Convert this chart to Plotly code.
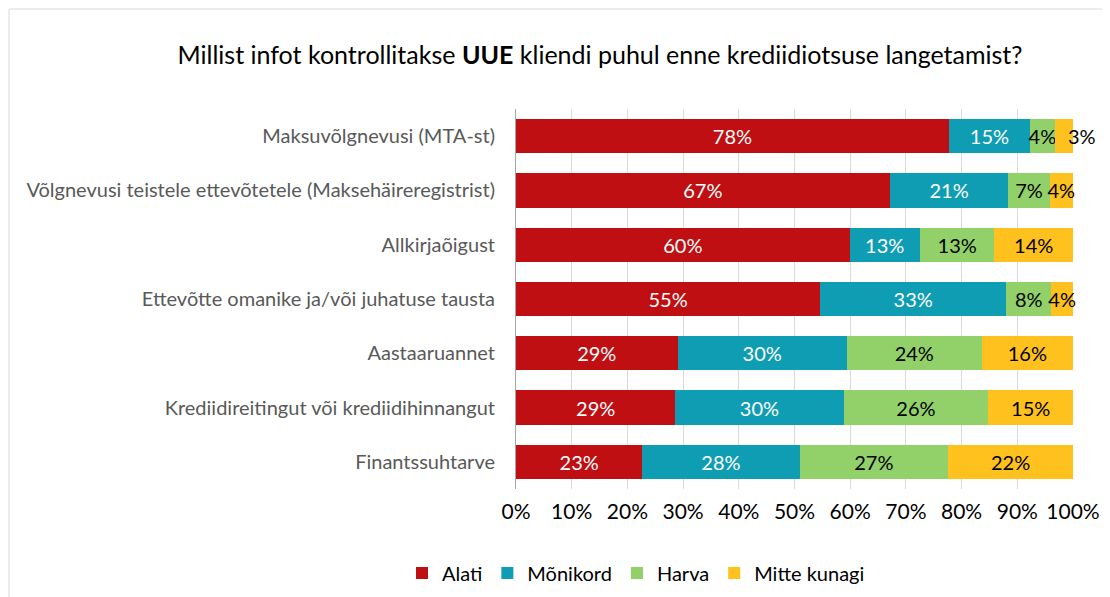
import plotly.graph_objects as go

categories = [
    "Maksuvõlgnevusi (MTA-st)",
    "Võlgnevusi teistele ettevõtetele (Maksehäireregistrist)",
    "Allkirjaõigust",
    "Ettevõtte omanike ja/või juhatuse tausta",
    "Aastaaruannet",
    "Krediidireitingut või krediidihinnangut",
    "Finantssuhtarve",
]
alati = [77.7, 67.1, 59.9, 54.6, 29.0, 28.6, 22.7]
monikord = [14.6, 21.3, 12.6, 33.4, 30.4, 30.2, 28.2]
harva = [4.4, 7.4, 13.4, 8.1, 24.2, 26.0, 26.7]
mitte_kunagi = [3.3, 4.2, 14.1, 3.9, 16.4, 15.2, 22.4]

series_names = ["Alati", "Mõnikord", "Harva", "Mitte kunagi"]
series_values = [alati, monikord, harva, mitte_kunagi]
colors = ["#C00F12", "#0E9DB3", "#92D06A", "#FFC11E"]
text_colors = ["white", "white", "black", "black"]

x_tickvals = [0, 10, 20, 30, 40, 50, 60, 70, 80, 90, 100]
x_ticktext = ["0%", "10%", "20%", "30%", "40%", "50%", "60%", "70%", "80%", "90%", "100%"]

FONT = "Lato"
OFF = 8  # page offset of the plot div

fig = go.Figure()
for si, (name, vals, col, tcol) in enumerate(zip(series_names, series_values, colors, text_colors)):
    labels = [f"{v:.0f}%" for v in vals]
    if si == 3:
        labels[0] = ""  # drawn as an outside label (see annotation below)
    fig.add_trace(go.Bar(
        y=categories, x=vals, name=name, orientation="h",
        marker=dict(color=col, line=dict(width=0)),
        text=labels, texttemplate="%{text}", textposition="inside",
        insidetextanchor="middle", textangle=0,
        textfont=dict(color=tcol, size=20, family=FONT),
        constraintext="none", cliponaxis=False,
        hoverinfo="skip",
    ))

# the small last segment of the first row: label sits just past the bar end
row0_end = alati[0] + monikord[0] + harva[0] + mitte_kunagi[0]
fig.add_annotation(
    x=row0_end, y=categories[0], xref="x", yref="y",
    text=f"{mitte_kunagi[0]:.0f}%", showarrow=False,
    xanchor="left", xshift=-7,
    font=dict(family=FONT, size=20, color="black"),
)

W, H = 1110, 597
L, T = 516 - OFF, 109 - OFF
pw, ph = 557, 380
R, B = W - L - pw, H - T - ph

fig.update_layout(
    width=W, height=H,
    barmode="stack", bargap=0.37,
    margin=dict(l=L, r=R, t=T, b=B, autoexpand=False),
    paper_bgcolor="white", plot_bgcolor="white",
    font=dict(family=FONT, size=16, color="#000000"),
    uniformtext=dict(minsize=20, mode="show"),
    title=dict(
        text="Millist infot kontrollitakse <b>UUE</b> kliendi puhul enne krediidiotsuse langetamist?",
        x=(600 - OFF) / W, xanchor="center", y=1 - (55 - OFF) / H, yanchor="middle",
        font=dict(family=FONT, size=25, color="#000000"),
    ),
    xaxis=dict(
        range=[0, 100.001], tickvals=x_tickvals, ticktext=x_ticktext,
        showgrid=True, gridcolor="#D9D9D9", gridwidth=1,
        zeroline=False, showline=False,
        tickfont=dict(family=FONT, size=21, color="#000000"),
        ticks="", ticklabelstandoff=8,
    ),
    yaxis=dict(
        categoryorder="array", categoryarray=categories,
        autorange="reversed",
        showgrid=False, zeroline=False,
        showline=True, linecolor="#A6A6A6", linewidth=1,
        tickfont=dict(family=FONT, size=20, color="#595959"),
        ticks="", ticklabelstandoff=16,
    ),
    legend=dict(
        orientation="h", x=(636 - OFF - L) / pw, xanchor="center",
        y=-(573 - OFF - (T + ph)) / ph, yanchor="middle",
        font=dict(family=FONT, size=20, color="#000000"),
        traceorder="normal", itemwidth=30,
        bgcolor="rgba(0,0,0,0)",
    ),
    showlegend=True,
)

# chart-area border (top and left edges)
fig.add_shape(type="line", xref="paper", yref="paper",
              x0=-(L - 1) / pw, x1=(W - L) / pw, y0=1 + (T - 1) / ph, y1=1 + (T - 1) / ph,
              line=dict(color="#D9D9D9", width=1))
fig.add_shape(type="line", xref="paper", yref="paper",
              x0=-(L - 1) / pw, x1=-(L - 1) / pw, y0=1 + (T - 1) / ph, y1=-(B) / ph,
              line=dict(color="#D9D9D9", width=1))

fig.write_html("out.html")
